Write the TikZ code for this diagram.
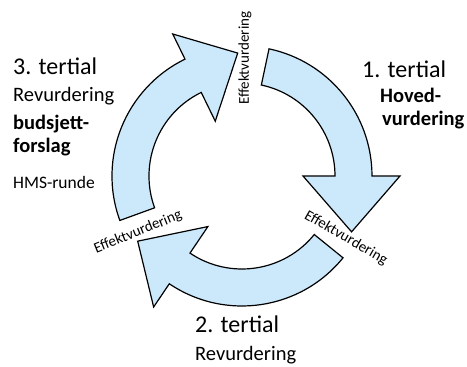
\documentclass[tikz,border=0pt]{standalone}
\usepackage{fontspec}
\setmainfont{Carlito}
\definecolor{arrowblue}{RGB}{204,233,252}
\tikzset{
  cycarrow/.style={draw=black, fill=arrowblue, line width=1.2pt, line join=miter},
  phase/.style={anchor=base west, inner sep=0pt, font=\fontsize{24}{28}\selectfont},
  task/.style={anchor=base west, inner sep=0pt, font=\fontsize{20.5}{24}\selectfont},
  boldtask/.style={anchor=base west, inner sep=0pt, font=\fontsize{20.5}{24}\selectfont\bfseries},
  effect/.style={inner sep=0pt, font=\fontsize{15}{18}\selectfont}
}
\begin{document}
\begin{tikzpicture}[x=1pt, y=1pt]
      \useasboundingbox (-242,-191) rectangle (225,176);
      \draw[cycarrow] (78:130) arc[start angle=78, end angle=0, radius=130]
        -- (0:158) -- (-27:123) -- (0:61) -- (0:93)
        arc[start angle=0, end angle=78, radius=93] -- cycle;
      \draw[cycarrow] (-39:130) arc[start angle=-39, end angle=-124, radius=130]
        -- (-124:158) -- (-148:123) -- (-124:61) -- (-124:93)
        arc[start angle=-124, end angle=-39, radius=93] -- cycle;
      \draw[cycarrow] (200:130) arc[start angle=200, end angle=116, radius=130]
        -- (116:158) -- (92:123) -- (116:61) -- (116:93)
        arc[start angle=116, end angle=200, radius=93] -- cycle;
      \path
        (3,118) node[effect, rotate=90] (e1){Effektvurdering}
        (104,-62) node[effect, rotate=-30] (e2){Effektvurdering}
        (-104,-56) node[effect, rotate=22] (e3){Effektvurdering};
      \path
        (120,98) node[phase] (t1){1. tertial}
        (138,73) node[boldtask] (hoved){Hoved-}
        (140,50) node[boldtask] (vurd){vurdering}
        (-47,-157) node[phase] (t2){2. tertial}
        (-47,-185) node[task] (rev2){Revurdering}
        (-229,101) node[phase] (t3){3. tertial}
        (-229,74) node[task] (rev3){Revurdering}
        (-229,46) node[boldtask] (budsj){budsjett-}
        (-229,23) node[boldtask] (forsl){forslag}
        (-229,-13) node[task, font=\fontsize{17.5}{21}\selectfont] (hms){HMS-runde};
    \end{tikzpicture}
\end{document}
